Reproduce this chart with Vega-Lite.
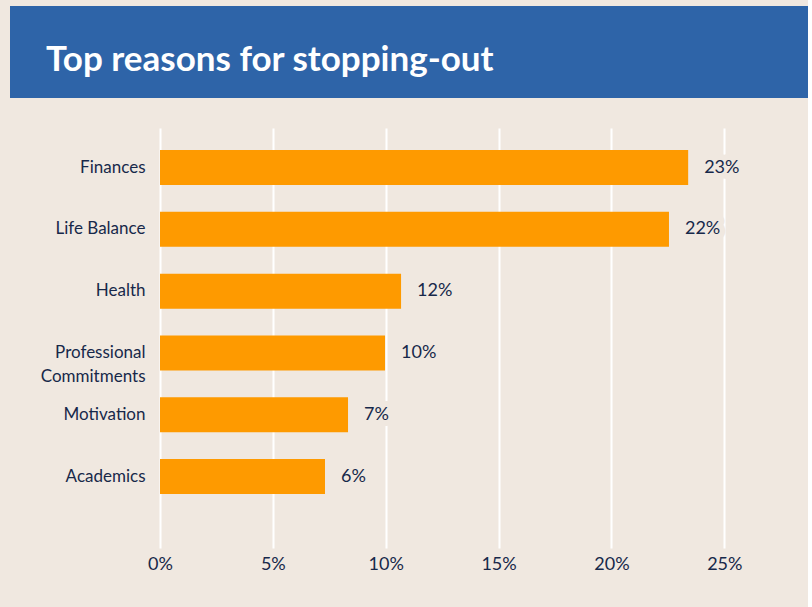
{
  "$schema": "https://vega.github.io/schema/vega-lite/v6.json",
  "background": "#F0E8E0",
  "padding": {"left": 10, "top": 6, "right": 0, "bottom": 34},
  "spacing": 30,
  "config": {
    "font": "Lato",
    "view": {"stroke": null}
  },
  "vconcat": [
    {
      "width": 798,
      "height": 92,
      "view": {"fill": "#2E64A8", "stroke": null},
      "title": {
        "text": "Top reasons for stopping-out",
        "anchor": "start",
        "frame": "group",
        "orient": "top",
        "offset": -72,
        "dx": 36,
        "font": "Lato",
        "fontSize": 35,
        "fontWeight": "bold",
        "color": "#FFFFFF"
      },
      "data": {"values": [{"t": ""}]},
      "mark": {"type": "text"},
      "encoding": {"text": {"field": "t"}}
    },
    {
      "width": 782,
      "height": 420,
      "data": {
        "values": [
          {"reason": "Finances", "pct": 23.4, "label": "23%"},
          {"reason": "Life Balance", "pct": 22.55, "label": "22%"},
          {"reason": "Health", "pct": 10.68, "label": "12%"},
          {"reason": "Professional Commitments", "pct": 9.97, "label": "10%"},
          {"reason": "Motivation", "pct": 8.33, "label": "7%"},
          {"reason": "Academics", "pct": 7.31, "label": "6%"}
        ]
      },
      "encoding": {
        "y": {
          "field": "reason",
          "type": "nominal",
          "sort": null,
          "scale": {"paddingInner": 0.434, "paddingOuter": 0.615, "align": 0.29},
          "axis": {
            "offset": -150,
            "domain": false,
            "ticks": false,
            "grid": false,
            "labelPadding": 15,
            "labelFontSize": 17,
            "labelColor": "#17284A",
            "labelLineHeight": 24,
            "labelLimit": 300,
            "labelExpr": "datum.label == 'Professional Commitments' ? ['Professional', 'Commitments'] : datum.label",
            "title": null
          }
        },
        "x": {
          "field": "pct",
          "type": "quantitative",
          "scale": {"domain": [-6.6456, 28], "nice": false, "zero": false},
          "axis": {
            "values": [0, 5, 10, 15, 20, 25],
            "labelExpr": "datum.value + '%'",
            "labelFlush": false,
            "grid": true,
            "gridColor": "#FFFFFF",
            "gridWidth": 2,
            "gridOpacity": 1,
            "domain": false,
            "ticks": false,
            "labelPadding": 7,
            "labelFontSize": 18,
            "labelColor": "#17284A",
            "title": null
          }
        }
      },
      "layer": [
        {"mark": {"type": "bar", "color": "#FE9A00"}},
        {
          "mark": {"type": "text", "align": "left", "baseline": "middle", "dx": 16, "fontSize": 18, "fill": "#F0E8E0", "stroke": "#F0E8E0", "strokeWidth": 12, "strokeJoin": "round"},
          "encoding": {"text": {"field": "label"}}
        },
        {
          "mark": {"type": "text", "align": "left", "baseline": "middle", "dx": 16, "fontSize": 18, "color": "#17284A"},
          "encoding": {"text": {"field": "label"}}
        }
      ]
    }
  ]
}
